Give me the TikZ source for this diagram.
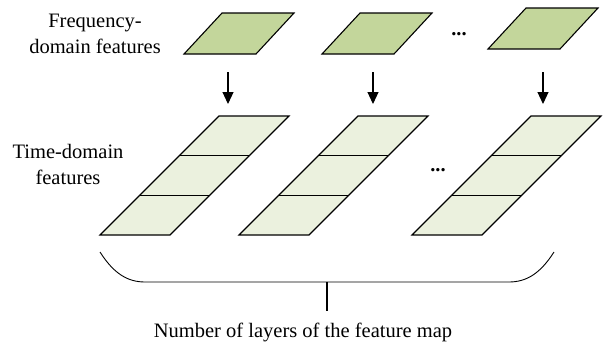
\documentclass[tikz,border=0pt]{standalone}
\usepackage{fontspec}
\setmainfont{Liberation Serif}
\usetikzlibrary{arrows.meta}
\definecolor{freqgreen}{HTML}{C3D69B}
\definecolor{timegreen}{HTML}{EBF1DE}
\tikzset{
  freqmap/.style = {fill = freqgreen, draw = black, line width = 1.1pt, line join = miter},
  timemap/.style = {fill = timegreen, draw = black, line width = 1.1pt},
  downarrow/.style = {line width = 1.1pt, -{Triangle[width = 11pt, length = 12pt]}},
  label/.style = {font = \fontsize{20.5}{26}\selectfont, align = center, inner sep = 0pt},
  dotsstyle/.style = {font = \fontsize{20.5}{26}\selectfont\bfseries, inner sep = 0pt}
}
\begin{document}
\begin{tikzpicture}[x = 1pt, y = -1pt]
  \useasboundingbox (0, 0) rectangle (610, 346);

  % frequency-domain features
  \foreach \x/\y in {184/54, 322/54, 488/49}
    \draw[freqmap] (\x, \y) -- ++(72, 0) -- ++(38, -41) -- ++(-72, 0) -- cycle;
  \node[dotsstyle] (dots1) at (459, 34) {...};

  % time-domain features
  \foreach \x in {100, 239, 412} {
    \draw[timemap] (\x, 235) -- ++(70, 0) -- ++(119, -119) -- ++(-70, 0) -- cycle;
    \draw[timemap] (\x + 39.7, 195.3) -- ++(70, 0);
    \draw[timemap] (\x + 79.3, 155.7) -- ++(70, 0);
  }
  \node[dotsstyle] (dots2) at (438, 170) {...};

  % arrows
  \foreach \i/\x in {1/228, 2/373, 3/543} {
    \coordinate (fa\i) at (\x, 72);
    \coordinate (ta\i) at (\x, 104);
    \draw[downarrow] (fa\i) -- (ta\i);
  }

  \node[label] (freq) at (95, 34) {Frequency-\\domain features};
  \node[label] (time) at (68, 164) {Time-domain\\features};

  % brace
  \coordinate (bl) at (100, 252);
  \coordinate (br) at (554, 252);
  \coordinate (bm) at (327, 282);
  \coordinate (bt) at (327, 311);
  \draw[line width = 0.9pt] (bl) .. controls (114, 274) and (128, 282) .. (145, 282)
    -- (509, 282) .. controls (526, 282) and (540, 274) .. (br);
  \draw[line width = 1.1pt] (bm) -- (bt);
  \node[label] (layers) at (303, 332) {Number of layers of the feature map};
\end{tikzpicture}
\end{document}
